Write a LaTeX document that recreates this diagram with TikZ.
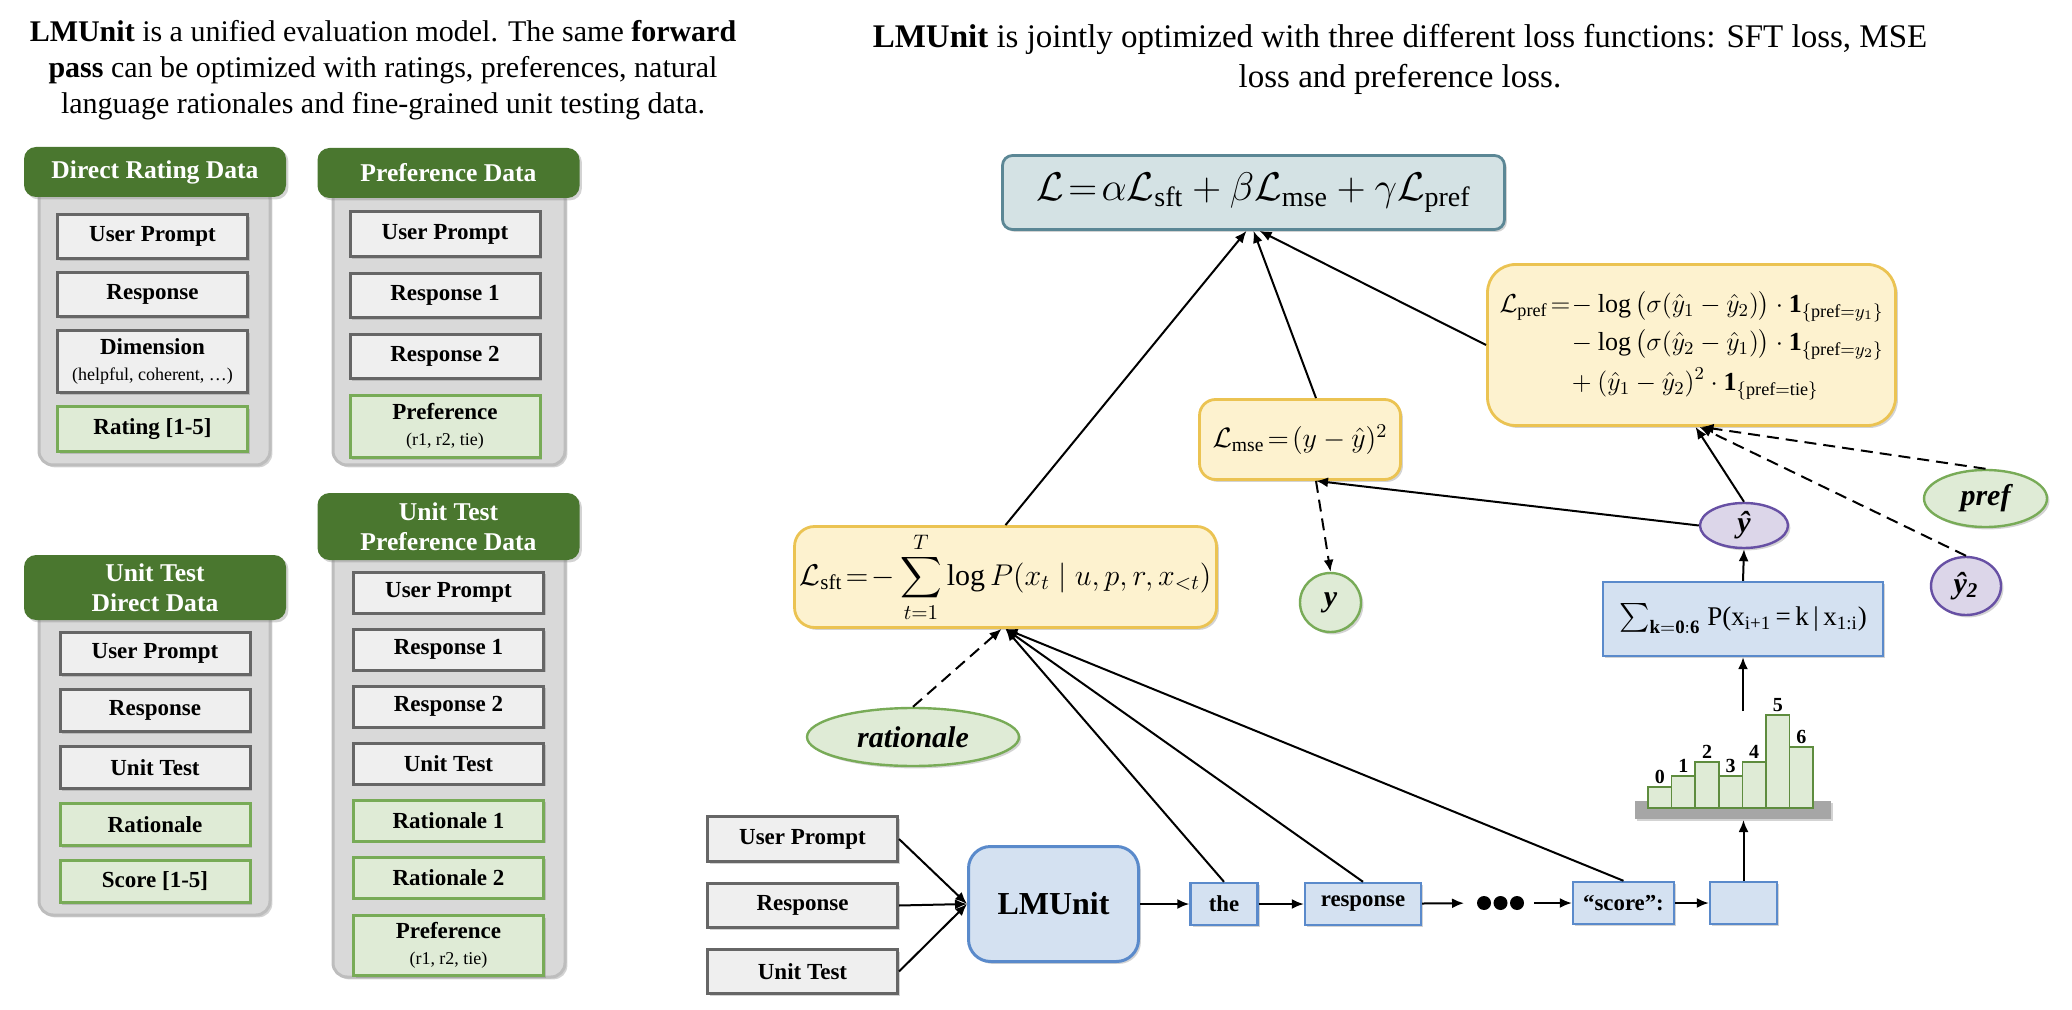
\documentclass[tikz,border=0pt]{standalone}
\usepackage{fix-cm}
\usepackage{amsmath}
\usepackage{fontspec}
\setmainfont{Liberation Serif}
\usetikzlibrary{positioning,shapes.geometric,arrows.meta,shadows}

\definecolor{hdrgreen}{HTML}{4A772F}
\definecolor{panelgray}{HTML}{D9D9D9}
\definecolor{panelline}{HTML}{BDBDBD}
\definecolor{itemfill}{HTML}{EFEFEF}
\definecolor{itemline}{HTML}{666666}
\definecolor{labelfill}{HTML}{DFEBD6}
\definecolor{labelline}{HTML}{78AB57}
\definecolor{totalfill}{HTML}{D4E2E4}
\definecolor{totalline}{HTML}{5B8795}
\definecolor{lossfill}{HTML}{FDF2CF}
\definecolor{lossline}{HTML}{EBC352}
\definecolor{tokfill}{HTML}{D4E1F1}
\definecolor{tokline}{HTML}{5A8ACB}
\definecolor{predfill}{HTML}{DCD6E9}
\definecolor{predline}{HTML}{6750A4}
\definecolor{barline}{HTML}{5E8C3E}
\definecolor{histgray}{HTML}{A6A6A6}

\newcommand\notefont{\fontsize{9}{10}\selectfont\mdseries}

\begin{document}
\begin{tikzpicture}[x=0.5pt,y=-0.5pt,
    >={Latex[length=6pt,width=5pt]},
    line width=1pt,
    soft shadow/.style={drop shadow={shadow xshift=1.2pt,shadow yshift=-1.2pt,opacity=0.35}},
    panelbody/.style={rounded corners=7pt,fill=panelgray,draw=panelline,line width=1.5pt,soft shadow},
    header/.style={rectangle,rounded corners=6pt,fill=hdrgreen,text=white,minimum width=131pt,
        align=center,inner sep=1pt,font=\fontsize{12.8}{15}\selectfont\bfseries,soft shadow},
    itembox/.style={rectangle,draw=itemline,line width=1.5pt,fill=itemfill,minimum width=95pt,
        minimum height=22pt,align=center,inner sep=1pt,font=\fontsize{11.5}{13}\selectfont\bfseries,soft shadow},
    answerbox/.style={itembox,draw=labelline,fill=labelfill},
    totalbox/.style={rectangle,rounded corners=5pt,draw=totalline,line width=1.4pt,fill=totalfill,inner sep=2pt,soft shadow},
    lossbox/.style={rectangle,draw=lossline,line width=1.4pt,fill=lossfill,inner sep=2pt,soft shadow},
    tokbox/.style={rectangle,draw=tokline,line width=1.2pt,fill=tokfill,minimum height=21pt,inner sep=1pt,
        font=\fontsize{11.4}{13}\selectfont\bfseries,soft shadow},
    predoval/.style={ellipse,draw=predline,line width=1.2pt,fill=predfill,inner sep=0pt,soft shadow,
        font=\fontsize{15}{17}\selectfont\bfseries\itshape},
    obsoval/.style={predoval,draw=labelline,fill=labelfill},
    histbar/.style={draw=barline,line width=0.8pt,fill=labelfill},
    histnum/.style={anchor=south,inner sep=1.2pt,font=\fontsize{10}{11}\selectfont\bfseries},
    tokdot/.style={circle,fill=black,inner sep=0pt,minimum size=7pt},
    dashedarrow/.style={->,dash pattern=on 6pt off 3.5pt}]

  \useasboundingbox (0,0) rectangle (2072,1010);

  % titles
  \node[font=\fontsize{15}{18}\selectfont,align=center] (dataTitle) at (383,70)
    {\textbf{LMUnit} is a unified evaluation model. The same \textbf{forward}\\
     \textbf{pass} can be optimized with ratings, preferences, natural\\
     language rationales and fine-grained unit testing data.};
  \node[font=\fontsize{16.5}{20}\selectfont,align=center] (lossTitle) at (1400,59)
    {\textbf{LMUnit} is jointly optimized with three different loss functions: SFT loss, MSE\\
     loss and preference loss.};

  % data panels
  \draw[panelbody] (39,185) rectangle (270,465);
  \draw[panelbody] (333,185) rectangle (565,465);
  \draw[panelbody] (39,600) rectangle (270,915);
  \draw[panelbody] (333,540) rectangle (565,977);

  \node[header,minimum height=25pt] (ratHead) at (155,172) {Direct Rating Data};
  \node[header,minimum height=25pt] (prefHead) at (448.5,173) {Preference Data};
  \node[header,minimum height=32.5pt] (utRatHead) at (155,587.5) {Unit Test\\Direct Data};
  \node[header,minimum height=33.5pt] (utPrefHead) at (448.5,526.5) {Unit Test\\Preference Data};

  \node[itembox] (ratPrompt) at (152.5,236.5) {User Prompt};
  \node[itembox] (ratResp) [below=5.5pt of ratPrompt] {Response};
  \node[itembox,minimum height=31pt] (ratDim) [below=5.5pt of ratResp] {Dimension\\{\notefont (helpful, coherent, \dots)}};
  \node[answerbox,minimum height=22.5pt] (ratScore) [below=5.5pt of ratDim] {Rating [1-5]};

  \node[itembox,minimum height=22.5pt] (prefPrompt) at (445,234) {User Prompt};
  \node[itembox] (prefResp1) [below=7pt of prefPrompt] {Response 1};
  \node[itembox] (prefResp2) [below=7pt of prefResp1] {Response 2};
  \node[answerbox,minimum height=31pt] (prefLabel) [below=7pt of prefResp2] {Preference\\{\notefont (r1, r2, tie)}};

  \node[itembox,minimum height=21pt] (utrPrompt) at (155,653.5) {User Prompt};
  \node[itembox,minimum height=21pt] (utrResp) [below=6pt of utrPrompt] {Response};
  \node[itembox,minimum height=21pt] (utrTest) [below=6pt of utrResp] {Unit Test};
  \node[answerbox,minimum height=21pt] (utrRat) [below=6pt of utrTest] {Rationale};
  \node[answerbox,minimum height=21pt] (utrScore) [below=6pt of utrRat] {Score [1-5]};

  \node[itembox,minimum height=20.5pt] (utpPrompt) at (448.5,592.5) {User Prompt};
  \node[itembox,minimum height=20.5pt] (utpResp1) [below=6.5pt of utpPrompt] {Response 1};
  \node[itembox,minimum height=20.5pt] (utpResp2) [below=6.5pt of utpResp1] {Response 2};
  \node[itembox,minimum height=20.5pt] (utpTest) [below=6.5pt of utpResp2] {Unit Test};
  \node[answerbox,minimum height=20.5pt] (utpRat1) [below=6.5pt of utpTest] {Rationale 1};
  \node[answerbox,minimum height=20.5pt] (utpRat2) [below=6.5pt of utpRat1] {Rationale 2};
  \node[answerbox,minimum height=30pt] (utpLabel) [below=7.25pt of utpRat2] {Preference\\{\notefont (r1, r2, tie)}};

  % losses
  \node[totalbox,minimum width=251pt,minimum height=37pt,font=\fontsize{20}{24}\selectfont] (totalLoss) at (1253.5,192.5)
    {$\mathcal{L}\!=\!\alpha\mathcal{L}_{\text{sft}}+\beta\mathcal{L}_{\text{mse}}+\gamma\mathcal{L}_{\text{pref}}$};
  \node[lossbox,rounded corners=10pt,minimum width=211pt,minimum height=50.5pt,font=\fontsize{15}{18}\selectfont] (sftLoss) at (1005.5,577)
    {$\mathcal{L}_{\text{sft}}\!=\!-\displaystyle\sum_{t=1}^{T}\log P(x_t\mid u,p,r,x_{<t})$};
  \node[lossbox,rounded corners=8pt,minimum width=100.5pt,minimum height=40pt,font=\fontsize{14}{17}\selectfont] (mseLoss) at (1300,439.5)
    {$\mathcal{L}_{\text{mse}}\!=\!(y-\hat{y})^2$};
  \node[lossbox,rounded corners=14pt,minimum width=204pt,minimum height=80.5pt,font=\fontsize{13}{16}\selectfont] (prefLoss) at (1691.5,345)
    {$\begin{aligned}
      \mathcal{L}_{\text{pref}}\!=\!&-\log\big(\sigma(\hat{y}_1-\hat{y}_2)\big)\cdot\mathbf{1}_{\{\text{pref}=y_1\}}\\
      &-\log\big(\sigma(\hat{y}_2-\hat{y}_1)\big)\cdot\mathbf{1}_{\{\text{pref}=y_2\}}\\
      &+(\hat{y}_1-\hat{y}_2)^2\cdot\mathbf{1}_{\{\text{pref}=\text{tie}\}}
     \end{aligned}$};

  % predictions and labels
  \node[tokbox,minimum width=140pt,minimum height=37pt,font=\fontsize{13.5}{16}\selectfont\mdseries] (scoreSum) at (1743,619)
    {$\sum_{\mathbf{k=0:6}}$ P(x$_{\text{i+1}}$\,=\,k\,|\,x$_{\text{1:i}}$)};
  \node[predoval,minimum width=44pt,minimum height=22.5pt] (yHat) at (1744,525.5) {ŷ};
  \node[obsoval,minimum width=30.5pt,minimum height=29.5pt] (yTrue) at (1330.5,602.5) {y};
  \node[obsoval,minimum width=61.5pt,minimum height=28.5pt] (prefTrue) at (1985.5,498.5) {pref};
  \node[predoval,minimum width=35pt,minimum height=29pt] (yHatTwo) at (1966,586) {ŷ\textsubscript{2}};
  \node[obsoval,minimum width=106pt,minimum height=29pt] (ratTrue) at (913,737) {rationale};

  % model chain
  \node[itembox,minimum height=22.5pt] (inPrompt) at (802.5,839) {User Prompt};
  \node[itembox] (inResp) [below=9.5pt of inPrompt] {Response};
  \node[itembox] (inTest) [below=9.5pt of inResp] {Unit Test};
  \node[rectangle,rounded corners=11pt,draw=tokline,line width=1.5pt,fill=tokfill,minimum width=85pt,minimum height=57.5pt,
        font=\fontsize{16}{18}\selectfont\bfseries,soft shadow] (lmunit) at (1053.5,904) {LMUnit};
  \node[tokbox,minimum width=33.5pt] (tokThe) at (1224,904) {the};
  \node[tokbox,minimum width=58pt] (tokResp) at (1363,904) {response};
  \node[tokdot] (dotA) at (1484,903) {};
  \node[tokdot] (dotB) at (1500.5,903) {};
  \node[tokdot] (dotC) at (1517,903) {};
  \node[tokbox,minimum width=50.5pt] (tokScore) at (1623.5,903) {“score”:};
  \node[tokbox,minimum width=33.5pt] (tokNext) at (1743.5,903) {};

  % score histogram
  \node[fill=histgray,minimum width=98pt,minimum height=9pt,inner sep=0pt,soft shadow] (histBase) at (1733,810) {};
  \foreach \bh [count=\i from 0] in {787,776,762,776,762,715,747} {
    \draw[histbar] (1648+23.6*\i,808) rectangle (1671.6+23.6*\i,\bh);
    \node[histnum] at (1659.8+23.6*\i,\bh) {\i};
  }
  \coordinate (histTop) at (1743,711);

  % connectors
  \draw[->] (sftLoss.north) -- ([xshift=-3.5pt]totalLoss.south);
  \draw[->] ([xshift=8pt]mseLoss.north) -- (totalLoss.south);
  \draw[->] (prefLoss.west) -- ([xshift=3pt]totalLoss.south);
  \draw[->] (yHat.north) -- ([xshift=2pt]prefLoss.south);
  \draw[dashedarrow] (prefTrue.north) -- ([xshift=5pt]prefLoss.south);
  \draw[dashedarrow] (yHatTwo.north) -- ([xshift=4pt]prefLoss.south);
  \draw[->] (yHat.west) -- ([xshift=8pt]mseLoss.south);
  \draw[dashedarrow] ([xshift=8pt]mseLoss.south) -- (yTrue.north);
  \draw[dashedarrow] (ratTrue.north) -- ([xshift=-2pt]sftLoss.south);
  \path[->] (tokThe.north) edge (sftLoss.south)
            (tokResp.north) edge (sftLoss.south)
            (tokScore.north) edge (sftLoss.south);
  \path[->] (inPrompt.east) edge (lmunit.west)
            (inResp.east) edge (lmunit.west)
            (inTest.east) edge (lmunit.west)
            (lmunit) edge (tokThe)
            (tokThe) edge (tokResp)
            (tokResp) edge[shorten >=6pt] (dotA)
            (dotC) edge[shorten <=4.5pt] (tokScore)
            (tokScore) edge (tokNext);
  \draw[->] (tokNext.north) -- (tokNext.north |- histBase.south);
  \draw[->] (histTop) -- (scoreSum.south);
  \draw[->] (scoreSum.north) -- (yHat.south);
\end{tikzpicture}
\end{document}
